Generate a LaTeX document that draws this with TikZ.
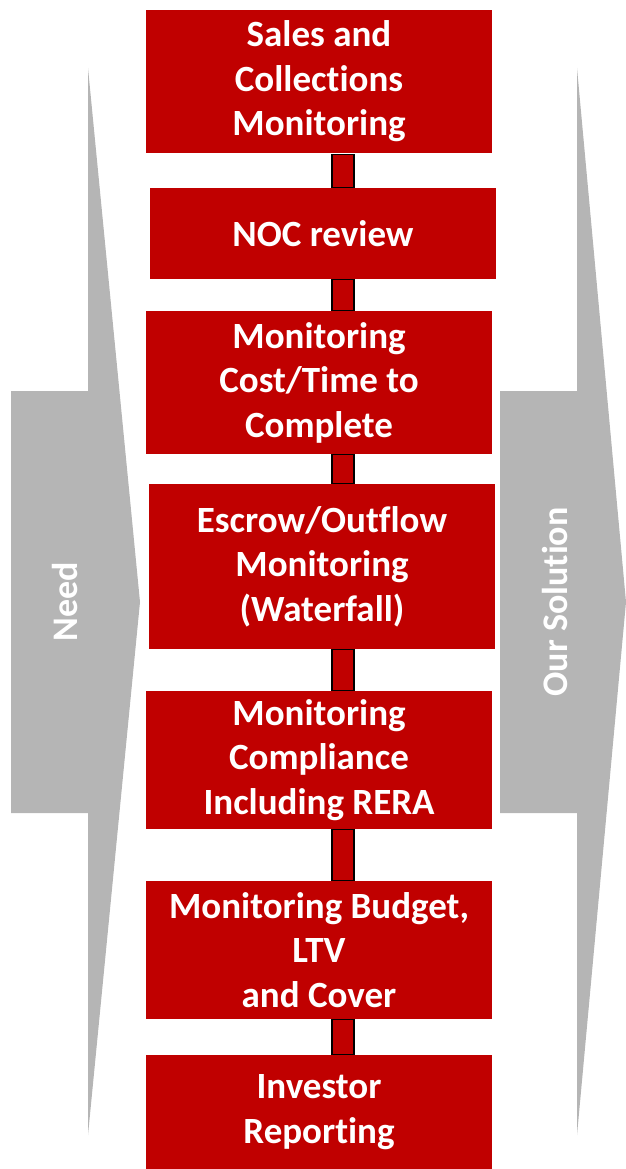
\documentclass[tikz,border=0pt]{standalone}
\usepackage{fontspec}
\setmainfont[RawFeature=-liga]{Carlito}
\usetikzlibrary{backgrounds}
\definecolor{boxred}{HTML}{C00000}
\definecolor{arrgray}{HTML}{B5B5B5}
\begin{document}
\begin{tikzpicture}[x=1pt,y=-1pt,
  stepbox/.style={fill=boxred,draw=none,inner sep=0pt,minimum width=346pt,
    text=white,align=center,font=\fontsize{37}{44.5}\selectfont\bfseries},
  conn/.style={fill=boxred,draw=black,line width=1.6pt},
  arrowlabel/.style={text=white,rotate=90,font=\fontsize{36}{44}\selectfont\bfseries}]
\useasboundingbox (0,0) rectangle (625,1169);
% side arrows
\fill[arrgray] (88,68) -- (140,602) -- (88,1135) -- (88,813) -- (11,813) -- (11,391) -- (88,391) -- cycle;
\fill[arrgray] (577,68) -- (626,602) -- (577,1135) -- (577,813) -- (500,813) -- (500,391) -- (577,391) -- cycle;
\node[arrowlabel] (need) at (65,602) {Need};
\node[arrowlabel] (sol) at (555,602) {Our Solution};
% boxes
\node[stepbox,minimum height=143pt] (b1) at (319,81.5) {Sales and\\Collections\\Monitoring};
\node[stepbox,minimum height=91pt] (b2) at (323,233.5) {NOC review};
\node[stepbox,minimum height=143pt] (b3) at (319,382.5) {Monitoring\\Cost/Time to\\Complete};
\node[stepbox,minimum height=165pt] (b4) at (322,566.5) {Escrow/Outflow\\Monitoring\\(Waterfall)};
\node[stepbox,minimum height=138pt] (b5) at (319,760) {Monitoring\\Compliance\\Including RERA};
\node[stepbox,minimum height=138pt] (b6) at (319,950) {Monitoring Budget,\\LTV\\and Cover};
\node[stepbox,minimum height=114pt] (b7) at (319,1112) {Investor\\Reporting};
% connectors
\coordinate (bl) at (332,0);
\coordinate (br) at (354,0);
\begin{scope}[on background layer]
\draw[conn] (bl |- b1.south) ++(0,1.5) rectangle (br |- b2.north);
\draw[conn] (bl |- b2.south) rectangle (br |- b3.north);
\draw[conn] (bl |- b3.south) rectangle (br |- b4.north);
\draw[conn] (bl |- b4.south) rectangle (br |- b5.north);
\draw[conn] (bl |- b5.south) rectangle (br |- b6.north);
\draw[conn] (bl |- b6.south) rectangle (br |- b7.north);
\end{scope}
\end{tikzpicture}
\end{document}
